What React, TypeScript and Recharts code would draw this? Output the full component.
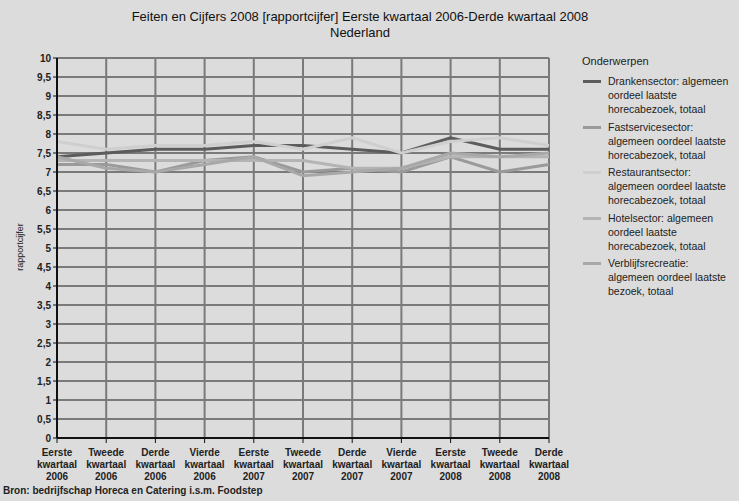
import React from "react";
import { CartesianGrid, Line, LineChart, XAxis, YAxis } from "recharts";

const quarters = [
  ["Eerste", "kwartaal", "2006"],
  ["Tweede", "kwartaal", "2006"],
  ["Derde", "kwartaal", "2006"],
  ["Vierde", "kwartaal", "2006"],
  ["Eerste", "kwartaal", "2007"],
  ["Tweede", "kwartaal", "2007"],
  ["Derde", "kwartaal", "2007"],
  ["Vierde", "kwartaal", "2007"],
  ["Eerste", "kwartaal", "2008"],
  ["Tweede", "kwartaal", "2008"],
  ["Derde", "kwartaal", "2008"],
];

const dranken = [7.4, 7.5, 7.6, 7.6, 7.7, 7.7, 7.6, 7.5, 7.9, 7.6, 7.6];
const fastservice = [7.2, 7.2, 7.0, 7.3, 7.4, 7.0, 7.1, 7.0, 7.4, 7.0, 7.2];
const restaurant = [7.8, 7.6, 7.7, 7.7, 7.8, 7.6, 7.9, 7.5, 7.8, 7.9, 7.7];
const hotel = [7.3, 7.3, 7.3, 7.3, 7.3, 7.3, 7.1, 7.1, 7.4, 7.4, 7.4];
const verblijf = [7.4, 7.1, 7.0, 7.2, 7.4, 6.9, 7.0, 7.1, 7.5, 7.4, 7.5];

const yTicks = [0, 0.5, 1, 1.5, 2, 2.5, 3, 3.5, 4, 4.5, 5, 5.5, 6, 6.5, 7, 7.5, 8, 8.5, 9, 9.5, 10];

const series = [
  { key: "dranken", color: "#5c5c5c", label: ["Drankensector: algemeen", "oordeel laatste", "horecabezoek, totaal"] },
  { key: "fastservice", color: "#9a9a9a", label: ["Fastservicesector:", "algemeen oordeel laatste", "horecabezoek, totaal"] },
  { key: "restaurant", color: "#cfcfcf", label: ["Restaurantsector:", "algemeen oordeel laatste", "horecabezoek, totaal"] },
  { key: "hotel", color: "#b4b4b4", label: ["Hotelsector: algemeen", "oordeel laatste", "horecabezoek, totaal"] },
  { key: "verblijf", color: "#a8a8a8", label: ["Verblijfsrecreatie:", "algemeen oordeel laatste", "bezoek, totaal"] },
];

const data = quarters.map((q, i) => ({
  name: q.join(" "),
  idx: i,
  dranken: dranken[i],
  fastservice: fastservice[i],
  restaurant: restaurant[i],
  hotel: hotel[i],
  verblijf: verblijf[i],
}));

const font = "'Liberation Sans', Arial, sans-serif";

function QuarterTick(props: any) {
  const { x, y, payload } = props;
  const lines = quarters[payload.index] || [];
  return (
    <text x={x} y={y + 2} textAnchor="middle" fontFamily={font} fontSize={10} fontWeight="bold" fill="#222">
      {lines.map((l, i) => (
        <tspan key={i} x={x} dy={i === 0 ? 9 : 12}>
          {l}
        </tspan>
      ))}
    </text>
  );
}

export default function App() {
  return (
    <div style={{ position: "absolute", left: 0, top: 0, width: 739, height: 501, background: "#dcdcdc", fontFamily: font, overflow: "hidden" }}>
      <div style={{ position: "absolute", left: 0, width: 720, top: 9, textAlign: "center", fontSize: 13, lineHeight: "16px", color: "#111" }}>
        Feiten en Cijfers 2008 [rapportcijfer] Eerste kwartaal 2006-Derde kwartaal 2008
        <br />
        Nederland
      </div>
      <LineChart
        width={739}
        height={501}
        data={data}
        margin={{ top: 58, right: 190, bottom: 0, left: 17 }}
        style={{ position: "absolute", left: 0, top: 0 }}
      >
        <CartesianGrid stroke="#7a7a7a" strokeWidth={2} vertical horizontal />
        <XAxis
          dataKey="name"
          interval={0}
          height={63}
          tick={<QuarterTick />}
          tickSize={5}
          axisLine={{ stroke: "#111", strokeWidth: 2 }}
          tickLine={{ stroke: "#111" }}
        />
        <YAxis
          width={40}
          domain={[0, 10]}
          ticks={yTicks}
          interval={0}
          tickSize={4}
          tickFormatter={(v: number) => String(v).replace(".", ",")}
          tick={{ fontSize: 10, fill: "#222", fontFamily: font, fontWeight: "bold" }}
          axisLine={{ stroke: "#111", strokeWidth: 2 }}
          tickLine={{ stroke: "#111" }}
        />
        {series.map((s) => (
          <Line
            key={s.key}
            dataKey={s.key}
            stroke={s.color}
            strokeWidth={3}
            dot={false}
            isAnimationActive={false}
          />
        ))}
      </LineChart>
      <div style={{ position: "absolute", left: 20, top: 247, transform: "translate(-50%, -50%) rotate(-90deg)", fontSize: 9, color: "#222", whiteSpace: "nowrap" }}>
        rapportcijfer
      </div>
      <div style={{ position: "absolute", left: 582, top: 55, fontSize: 11, color: "#222" }}>Onderwerpen</div>
      {series.map((s, i) => (
        <div key={s.key} style={{ position: "absolute", left: 582, top: 74 + i * 45.5, fontSize: 10.5, lineHeight: "14px", color: "#222" }}>
          <div style={{ position: "absolute", left: 1, top: 6, width: 18, height: 3, background: s.color }} />
          <div style={{ marginLeft: 26 }}>
            {s.label.map((l, j) => (
              <div key={j} style={{ whiteSpace: "nowrap" }}>{l}</div>
            ))}
          </div>
        </div>
      ))}
      <div style={{ position: "absolute", left: 3, top: 485, fontSize: 10, fontWeight: "bold", color: "#222" }}>
        Bron: bedrijfschap Horeca en Catering i.s.m. Foodstep
      </div>
    </div>
  );
}
